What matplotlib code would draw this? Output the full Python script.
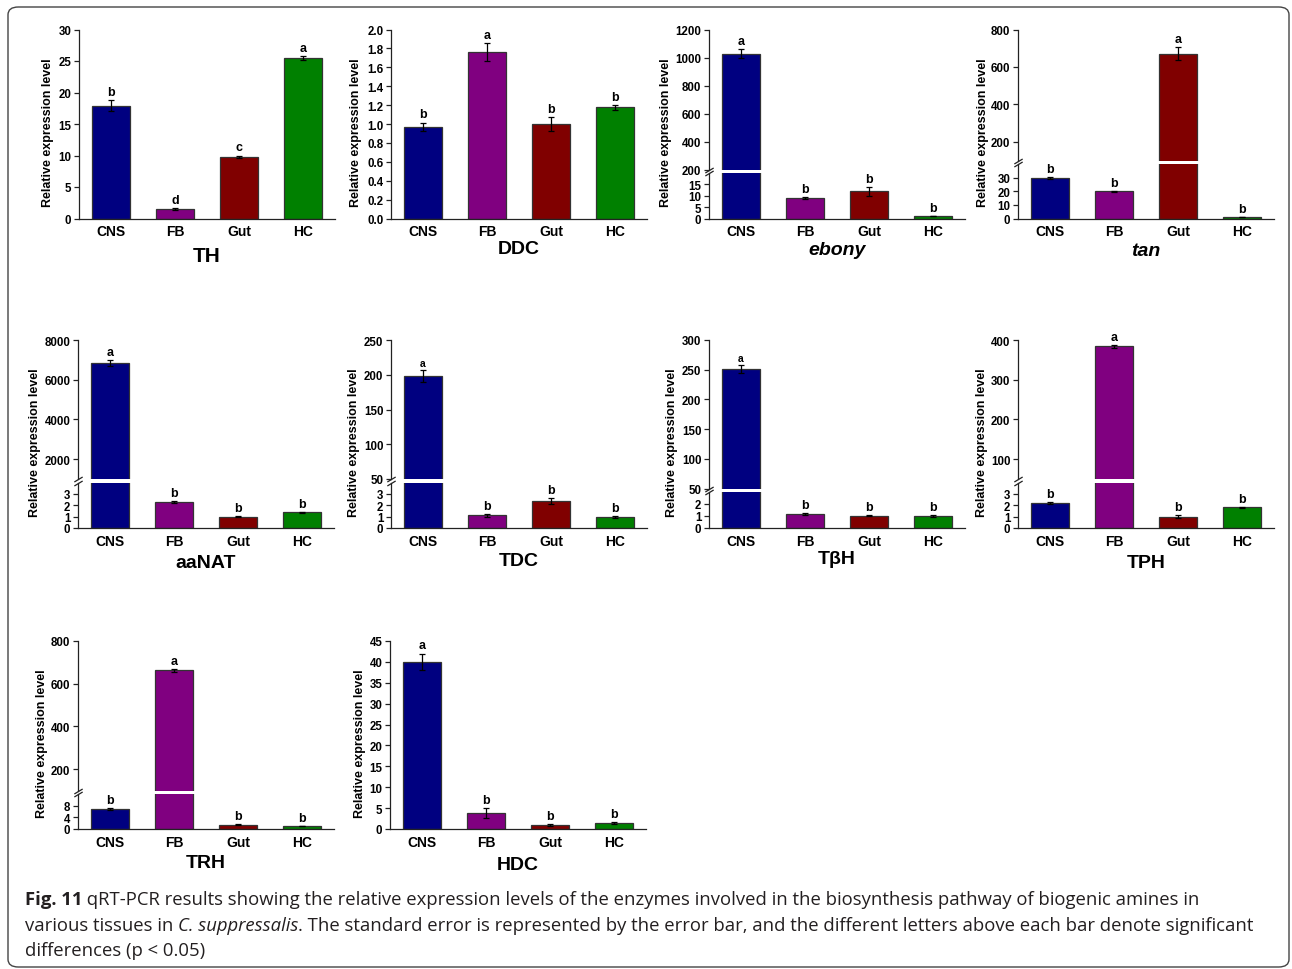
import numpy as np
import matplotlib.pyplot as plt
from matplotlib.patches import FancyBboxPatch

W, H = 1292, 970

tessuti = ['CNS', 'FB', 'Gut', 'HC']
colori = ['#000080', '#800080', '#800000', '#008000']

# valori (media, errore standard, lettere)
th_val = [17.9, 1.5, 9.8, 25.5]
th_err = [0.9, 0.1, 0.2, 0.3]
th_let = ['b', 'd', 'c', 'a']

ddc_val = [0.97, 1.76, 1.00, 1.175]
ddc_err = [0.045, 0.095, 0.075, 0.03]
ddc_let = ['b', 'a', 'b', 'b']

ebony_val = [1028, 9.0, 12.0, 1.0]
ebony_err = [30, 0.5, 2.0, 0.1]
ebony_let = ['a', 'b', 'b', 'b']

tan_val = [29.5, 20.0, 670, 1.0]
tan_err = [0.6, 0.4, 35, 0.1]
tan_let = ['b', 'b', 'a', 'b']

aanat_val = [6830, 2.25, 1.0, 1.38]
aanat_err = [150, 0.08, 0.03, 0.05]
aanat_let = ['a', 'b', 'b', 'b']

tdc_val = [198, 1.1, 2.4, 1.0]
tdc_err = [9, 0.12, 0.25, 0.08]
tdc_let = ['a', 'b', 'b', 'b']

tbh_val = [251, 1.15, 1.02, 1.0]
tbh_err = [7, 0.07, 0.05, 0.05]
tbh_let = ['a', 'b', 'b', 'b']

tph_val = [2.22, 384, 1.0, 1.83]
tph_err = [0.1, 4, 0.12, 0.05]
tph_let = ['b', 'a', 'b', 'b']

trh_val = [6.8, 663, 1.5, 1.0]
trh_err = [0.3, 7, 0.2, 0.1]
trh_let = ['b', 'a', 'b', 'b']

hdc_val = [40.0, 3.9, 1.0, 1.35]
hdc_err = [2.0, 1.2, 0.2, 0.25]
hdc_let = ['a', 'b', 'b', 'b']

plt.rcParams['font.family'] = 'Liberation Sans'
plt.rcParams['font.weight'] = 'bold'

fig = plt.figure(figsize=(W / 100, H / 100), dpi=100)


def box(x0, top, bottom, w=256):
    # pixel -> coordinate della figura
    return [x0 / W, 1 - bottom / H, w / W, (bottom - top) / H]


def stile(ax, lim, ticks, fmt='{:g}', basso=True):
    ax.set_xlim(-0.5, 3.5)
    ax.set_ylim(*lim)
    ax.set_yticks(ticks)
    ax.set_yticklabels([fmt.format(t) for t in ticks], fontsize=8.3, fontweight='bold')
    for s in ['top', 'right']:
        ax.spines[s].set_visible(False)
    for s in ['left', 'bottom']:
        ax.spines[s].set_linewidth(0.9)
        ax.spines[s].set_color('#222222')
    ax.tick_params(axis='y', length=3.5, width=0.9, pad=2, color='#222222')
    if basso:
        ax.set_xticks(range(4))
        ax.set_xticklabels(tessuti, fontsize=10, fontweight='bold')
        ax.tick_params(axis='x', length=0, pad=4)
    else:
        ax.spines['bottom'].set_visible(False)
        ax.set_xticks([])


def barre(ax, val, err):
    ax.bar(range(4), val, width=0.6, color=colori, edgecolor='#333333', linewidth=0.9)
    ax.errorbar(range(4), val, yerr=err, fmt='none', ecolor='black',
                elinewidth=0.9, capsize=2.5, capthick=0.9)


def lettere(ax, val, err, let, idx, size=9):
    for i in idx:
        ax.annotate(let[i], (i, val[i] + err[i]), xytext=(0, 1.5), textcoords='offset points',
                    ha='center', va='bottom', fontsize=size, fontweight='bold')


def rottura(ax, y):
    ax.plot([0], [y], transform=ax.transAxes, marker=[(-1, -0.6), (1, 0.6)],
            markersize=6, linestyle='none', color='#222222', mew=0.9, clip_on=False)


def pannello(x0, top, bottom, val, err, let, lim, ticks, fmt='{:g}'):
    ax = fig.add_axes(box(x0, top, bottom))
    barre(ax, val, err)
    stile(ax, lim, ticks, fmt)
    lettere(ax, val, err, let, range(4))
    return ax


def pannello_rotto(x0, top, bottom, h_basso, val, err, let, lim_alto, tick_alto,
                   lim_basso, tick_basso, alti, size_alto=9):
    gap = 3.5
    ax_b = fig.add_axes(box(x0, bottom - h_basso, bottom))
    ax_a = fig.add_axes(box(x0, top, bottom - h_basso - gap))
    barre(ax_b, val, err)
    barre(ax_a, val, err)
    stile(ax_b, lim_basso, tick_basso)
    stile(ax_a, lim_alto, tick_alto, basso=False)
    bassi = [i for i in range(4) if i not in alti]
    lettere(ax_b, val, err, let, bassi)
    lettere(ax_a, val, err, let, alti, size=size_alto)
    rottura(ax_b, 1.0)
    rottura(ax_a, 0.0)
    return ax_a


def ylabel(x, top, bottom):
    # nell'originale l'etichetta sta un po' più in basso del centro dell'asse
    fig.text(x / W, 1 - ((top + bottom) / 2 + 8) / H, 'Relative expression level', rotation=90,
             ha='center', va='center', fontsize=9, fontweight='bold')


def titolo(x0, y, testo, size=14, style='normal'):
    fig.text((x0 + 128) / W, 1 - y / H, testo, ha='center', va='center',
             fontsize=size, fontweight='bold', style=style)


# riga 1
pannello(79, 30.5, 219.5, th_val, th_err, th_let, (0, 30), range(0, 31, 5))
ylabel(48, 30.5, 219.5)
titolo(79, 257, 'TH', 15)

pannello(391, 30.5, 219.5, ddc_val, ddc_err, ddc_let, (0, 2.0), np.arange(0, 2.01, 0.2), '{:.1f}')
ylabel(356, 30.5, 219.5)
titolo(391, 250, 'DDC', 14)

pannello_rotto(709, 30.5, 219.5, 45.5, ebony_val, ebony_err, ebony_let,
               (200, 1200), range(200, 1201, 200), (0, 20), [0, 5, 10, 15], [0])
ylabel(666, 30.5, 219.5)
titolo(709, 251, 'ebony', 14, 'italic')

pannello_rotto(1018, 30.5, 219.5, 54.5, tan_val, tan_err, tan_let,
               (100, 800), [200, 400, 600, 800], (0, 40), [0, 10, 20, 30], [2])
ylabel(983, 30.5, 219.5)
titolo(1018, 252, 'tan', 14, 'italic')

# riga 2
pannello_rotto(78, 341, 529, 45.5, aanat_val, aanat_err, aanat_let,
               (1000, 8000), [2000, 4000, 6000, 8000], (0, 4), [0, 1, 2, 3], [0])
ylabel(35, 341, 529)
titolo(78, 563, 'aaNAT', 14)

pannello_rotto(391, 341, 529, 45.5, tdc_val, tdc_err, tdc_let,
               (50, 250), range(50, 251, 50), (0, 4), [0, 1, 2, 3], [0], size_alto=7.5)
ylabel(354, 341, 529)
titolo(391, 561, 'TDC', 14)

pannello_rotto(709, 341, 529, 36, tbh_val, tbh_err, tbh_let,
               (50, 300), range(50, 301, 50), (0, 3), [0, 1, 2], [0], size_alto=7.5)
ylabel(672, 341, 529)
titolo(709, 560, 'TβH', 14)

pannello_rotto(1018, 341, 529, 45.5, tph_val, tph_err, tph_let,
               (50, 400), [100, 200, 300, 400], (0, 4), [0, 1, 2, 3], [1])
ylabel(982, 341, 529)
titolo(1018, 563, 'TPH', 14)

# riga 3
pannello_rotto(78, 642, 830, 35, trh_val, trh_err, trh_let,
               (100, 800), [200, 400, 600, 800], (0, 12), [0, 4, 8], [1])
ylabel(42, 642, 830)
titolo(78, 864, 'TRH', 14)

pannello(390, 642, 830, hdc_val, hdc_err, hdc_let, (0, 45), range(0, 46, 5))
ylabel(360, 642, 830)
titolo(390, 865, 'HDC', 14)

# didascalia, pezzi con stili diversi messi uno dopo l'altro
righe = [
    [('Fig. 11', 'bold', 'normal'),
     (' qRT-PCR results showing the relative expression levels of the enzymes involved in the '
      'biosynthesis pathway of biogenic amines in', 'normal', 'normal')],
    [('various tissues in ', 'normal', 'normal'), ('C. suppressalis', 'normal', 'italic'),
     ('. The standard error is represented by the error bar, and the different letters above '
      'each bar denote significant', 'normal', 'normal')],
    [('differences (p < 0.05)', 'normal', 'normal')],
]
y_righe = [900, 926, 951]
renderer = fig.canvas.get_renderer()
for pezzi, yp in zip(righe, y_righe):
    x = 25
    for testo, peso, stile_t in pezzi:
        t = fig.text(x / W, 1 - yp / H, testo, ha='left', va='center', fontsize=13.3,
                     family='Open Sans', fontweight=peso, style=stile_t, color='#231f20')
        x += t.get_window_extent(renderer).width

fig.patches.append(FancyBboxPatch((8 / W, 2 / H), 1281 / W, 960 / H,
                                  boxstyle='round,pad=0,rounding_size=0.008',
                                  transform=fig.transFigure, fill=False,
                                  edgecolor='#444444', linewidth=1.0))

fig.savefig('out.png', dpi=100)
